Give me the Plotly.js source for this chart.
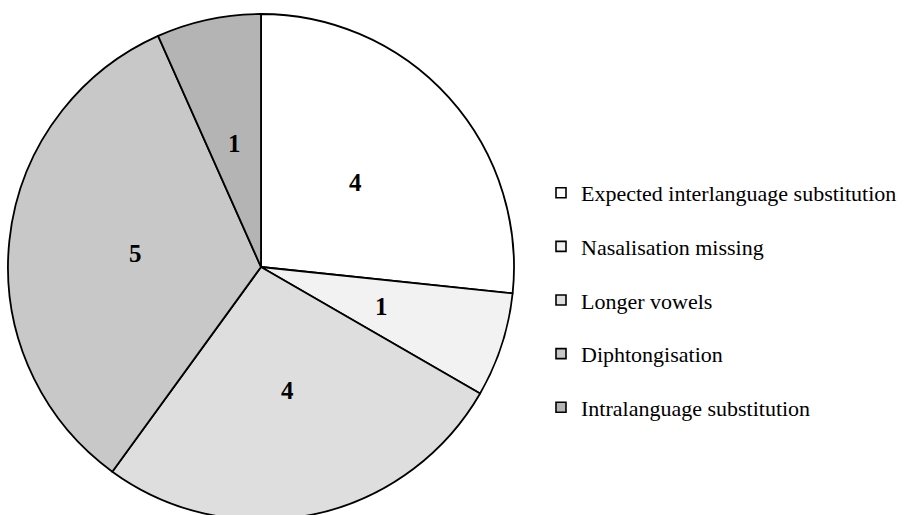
<!DOCTYPE html>
<html>
<head>
<meta charset="utf-8">
<script src="https://cdn.plot.ly/plotly-3.0.1.min.js"></script>
<style>
html,body{margin:0;padding:0;overflow:hidden;background:#fff;}
#plot{width:920px;height:530px;}
</style>
</head>
<body>
<div id="plot"></div>
<script>
const categories = ["Expected interlanguage substitution","Nasalisation missing","Longer vowels","Diphtongisation","Intralanguage substitution"];
const counts = [4, 1, 4, 5, 1];
const fills = ["#ffffff","#f2f2f2","#dedede","#c8c8c8","#b4b4b4"];

const W = 920, H = 530;
const SERIF = "'Liberation Serif', 'Times New Roman', Times, serif";
const dom = {x: [8/W, 514/W], y: [1 - 520/H, 1 - 14/H]};

const pie = {
  type: "pie",
  labels: categories,
  values: counts,
  sort: false,
  direction: "clockwise",
  rotation: 0,
  marker: {colors: fills, line: {color: "#000", width: 1.8}},
  textinfo: "none",
  showlegend: false,
  hoverinfo: "label+value",
  domain: dom
};

// value labels placed at half radius along each slice's mid-angle (derived from the data)
const total = counts.reduce((a, b) => a + b, 0);
const cx = (dom.x[0] + dom.x[1]) / 2, cy = (dom.y[0] + dom.y[1]) / 2;
const rx = (dom.x[1] - dom.x[0]) / 2, ry = (dom.y[1] - dom.y[0]) / 2;
let cum = 0;
const annotations = counts.map((v) => {
  const mid = (cum + v / 2) / total * 2 * Math.PI;
  cum += v;
  return {
    xref: "paper", yref: "paper",
    x: cx + 0.5 * rx * Math.sin(mid),
    y: cy + 0.5 * ry * Math.cos(mid),
    text: "<b>" + v + "</b>",
    showarrow: false,
    font: {family: SERIF, size: 25, color: "#000"},
    xanchor: "center", yanchor: "middle"
  };
});

// legend entries (one group each so the gap between entries can be set)
const legendTraces = categories.map((c, i) => ({
  type: "scatter",
  mode: "markers",
  x: [null], y: [null],
  name: c,
  legendgroup: "g" + i,
  marker: {symbol: "square", size: 10, color: fills[i], line: {color: "#000", width: 1.6}},
  hoverinfo: "skip",
  showlegend: true
}));

const layout = {
  width: W, height: H,
  margin: {l: 0, r: 0, t: 0, b: 0},
  paper_bgcolor: "#fff",
  plot_bgcolor: "#fff",
  xaxis: {visible: false},
  yaxis: {visible: false},
  showlegend: true,
  annotations: annotations,
  legend: {
    x: 541/W, y: 1 - 172/H, xanchor: "left", yanchor: "top",
    font: {family: SERIF, size: 22, color: "#000"},
    tracegroupgap: 22,
    bgcolor: "rgba(0,0,0,0)",
    traceorder: "grouped"
  }
};

Plotly.newPlot("plot", [pie].concat(legendTraces), layout, {displayModeBar: false, staticPlot: true});
</script>
</body>
</html>
